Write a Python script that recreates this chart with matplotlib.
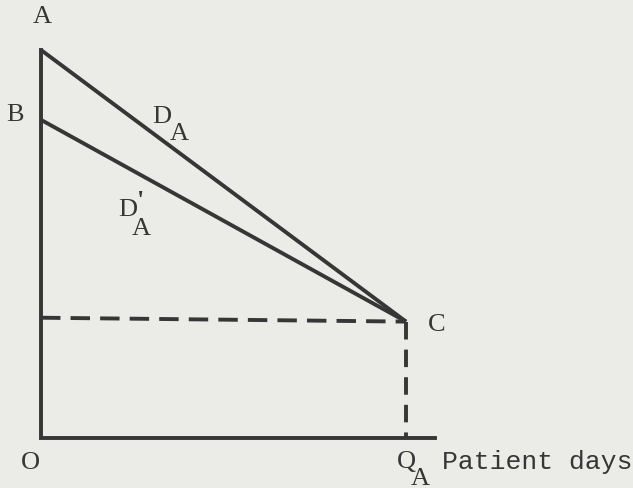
import matplotlib.pyplot as plt

# diagram values (arbitrary units)
point_names = ['A', 'B', 'C']
intercept_A = 10.0      # D_A meets price axis
intercept_B = 8.2       # D'_A meets price axis
q_A = 10.0              # quantity at C
p_C = 3.0               # price at C
x_axis_end = 10.8

bg = '#ebebe8'
ink = '#363636'
lw = 2.8

fig = plt.figure(figsize=(6.33, 4.89), dpi=100, facecolor=bg)
ax = fig.add_axes([0, 0, 1, 1])
ax.set_facecolor(bg)
ax.set_xlim(-41 / 36.5, (633 - 41) / 36.5)
ax.set_ylim(-50 / 38.8, 439 / 38.8)
ax.axis('off')

# axes
ax.plot([0, 0, x_axis_end], [intercept_A, 0, 0], color=ink, lw=lw, solid_joinstyle='miter')

# demand curves
ax.plot([0, q_A], [intercept_A, p_C], color=ink, lw=lw, solid_capstyle='butt')
ax.plot([0, q_A], [intercept_B, p_C], color=ink, lw=lw, solid_capstyle='butt')

# dashed guides
ax.plot([0, q_A], [p_C + 0.1, p_C], color=ink, lw=lw, dashes=(5, 2.6))
ax.plot([q_A, q_A], [p_C, 0], color=ink, lw=lw, dashes=(4.5, 2.6))

font = dict(family='Liberation Serif', color=ink, fontsize=19)
ax.text(0.03, intercept_A + 0.88, point_names[0], ha='center', va='center', **font)
ax.text(-0.72, intercept_B + 0.15, point_names[1], ha='center', va='center', **font)
ax.text(q_A + 0.85, p_C - 0.06, point_names[2], ha='center', va='center', **font)
ax.text(-0.3, -0.62, 'O', ha='center', va='center', **font)

ax.text(3.32, 8.30, 'D', ha='center', va='center', **font)
ax.text(3.78, 7.85, 'A', ha='center', va='center', **font)
ax.text(2.38, 5.90, 'D', ha='center', va='center', **font)
ax.text(2.72, 6.12, "'", ha='center', va='center', fontweight='bold', **font)
ax.text(2.74, 5.42, 'A', ha='center', va='center', **font)

ax.text(q_A + 0.0, -0.6, 'Q', ha='center', va='center', **font)
ax.text(q_A + 0.4, -1.02, 'A', ha='center', va='center', **font)
ax.text(q_A + 0.98, -0.6, 'Patient days', ha='left', va='center',
        family='Liberation Mono', color=ink, fontsize=19)

fig.savefig('out.png', dpi=100, facecolor=bg)
